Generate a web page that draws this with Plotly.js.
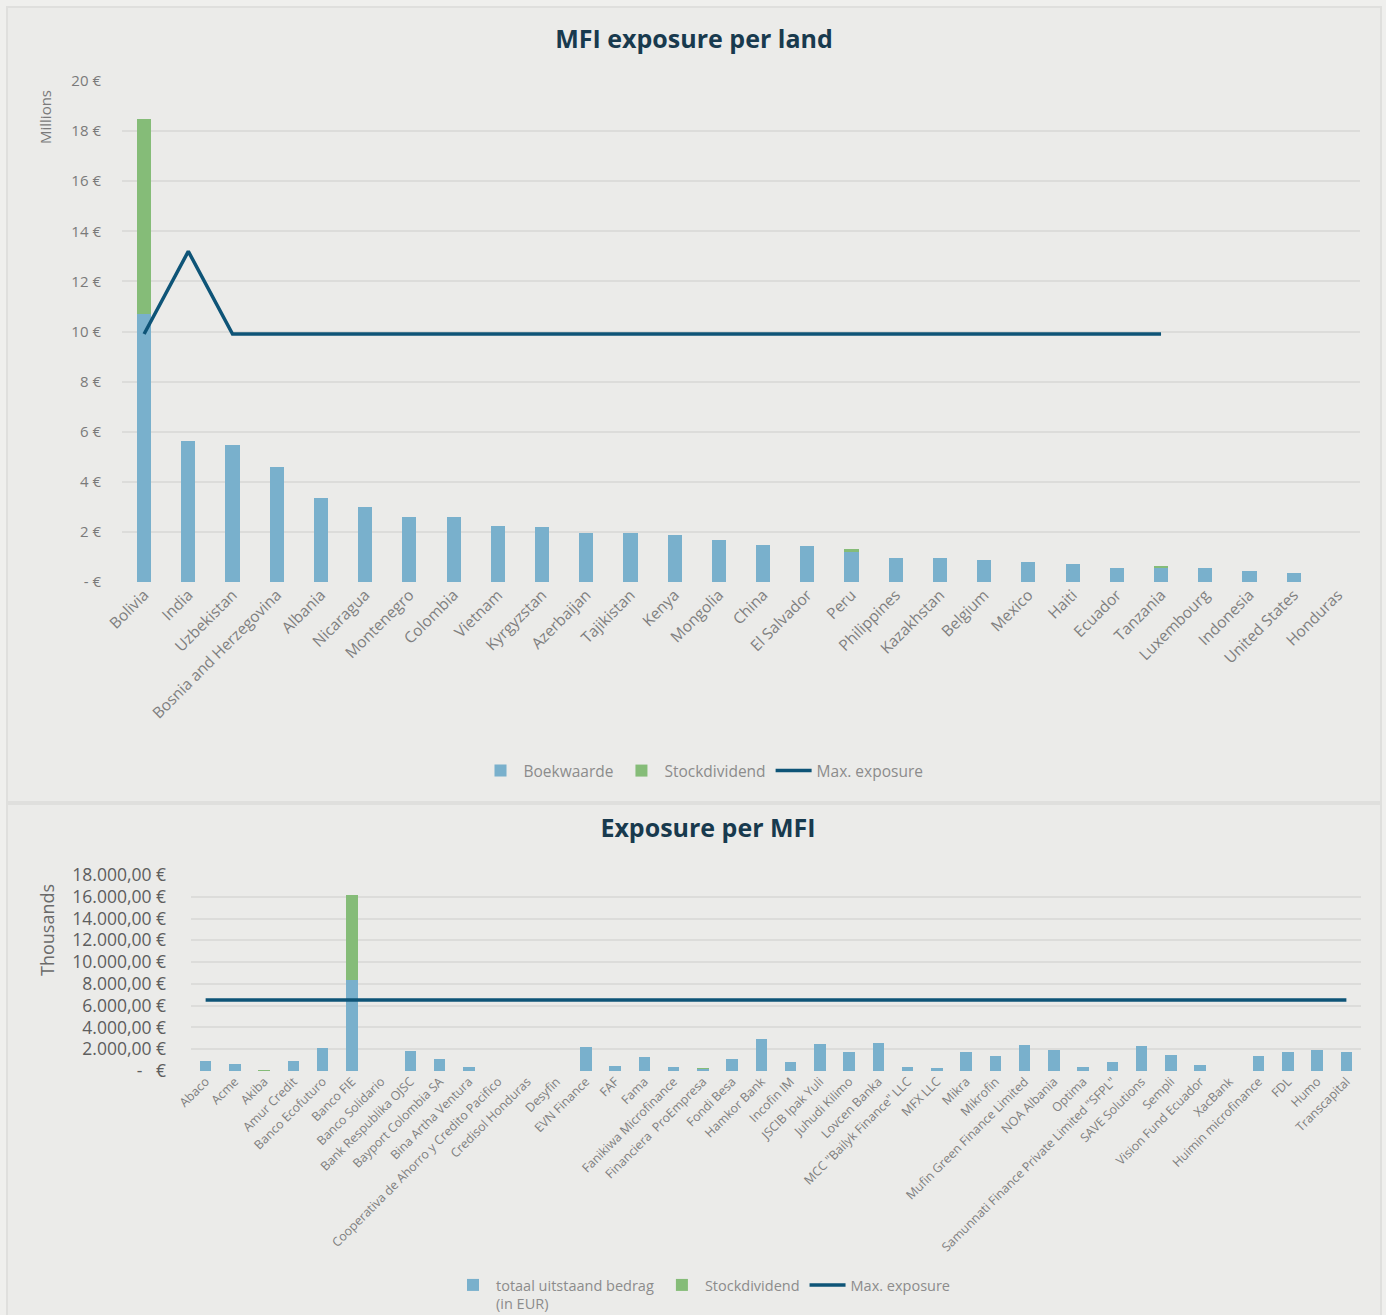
<!DOCTYPE html>
<html>
<head>
<meta charset="utf-8">
<script src="https://cdn.plot.ly/plotly-3.0.1.min.js"></script>
<style>
  html, body { margin:0; padding:0; background:#efefed; width:1386px; height:1315px; overflow:hidden; }
  .panel { position:absolute; background:#ebebe9; border:2px solid #dfdfdd; box-sizing:border-box; }
  #p1 { left:6px; top:6px; width:1376px; height:797px; }
  #p2 { left:6px; top:803px; width:1376px; height:520px; }
  #c1 { position:absolute; left:8px; top:8px; width:1372px; height:793px; }
  #c2 { position:absolute; left:8px; top:805px; width:1372px; height:510px; }
</style>
</head>
<body>
<div class="panel" id="p1"></div>
<div class="panel" id="p2"></div>
<div id="c1"></div>
<div id="c2"></div>
<script>
// ---------- Chart 1 : MFI exposure per land (values in millions EUR) ----------
const countries = ["Bolivia","India","Uzbekistan","Bosnia and Herzegovina","Albania","Nicaragua","Montenegro","Colombia","Vietnam","Kyrgyzstan","Azerbaijan","Tajikistan","Kenya","Mongolia","China","El Salvador","Peru","Philippines","Kazakhstan","Belgium","Mexico","Haiti","Ecuador","Tanzania","Luxembourg","Indonesia","United States","Honduras"];
const boekwaarde = [10.68,5.64,5.45,4.60,3.37,3.00,2.61,2.61,2.25,2.18,1.96,1.96,1.87,1.68,1.49,1.45,1.19,0.96,0.96,0.88,0.81,0.72,0.56,0.57,0.56,0.45,0.35,0];
const stockdividendLand = [7.80,0,0,0,0,0,0,0,0,0,0,0,0,0,0,0,0.12,0,0,0,0,0,0,0.06,0,0,0,0];
const maxExposureLand = [9.9,13.2,9.9,9.9,9.9,9.9,9.9,9.9,9.9,9.9,9.9,9.9,9.9,9.9,9.9,9.9,9.9,9.9,9.9,9.9,9.9,9.9,9.9,9.9,null,null,null,null];
const landTickVals = [0,2,4,6,8,10,12,14,16,18,20];
const landTickText = ["-\u00a0€","2 €","4 €","6 €","8 €","10 €","12 €","14 €","16 €","18 €","20 €"];

// ---------- Chart 2 : Exposure per MFI (values in thousands EUR) ----------
const mfis = ["Abaco","Acme","Akiba","Amur Credit","Banco Ecofuturo","Banco FIE","Banco Solidario","Bank Respublika OJSC","Bayport Colombia SA","Bina Artha Ventura","Cooperativa de Ahorro y Credito Pacifico","Credisol Honduras","Desyfin","EVN Finance","FAF","Fama","Fanikiwa Microfinance","Financiera  ProEmpresa","Fondi Besa","Hamkor Bank","Incofin IM","JSCIB Ipak Yuli","Juhudi Kilimo","Lovcen Banka","MCC \"Bailyk Finance\" LLC","MFX LLC","Mikra","Mikrofin","Mufin Green Finance Limited","NOA Albania","Optima","Samunnati Finance Private Limited \"SFPL\"","SAVE Solutions","Sempli","Vision Fund Ecuador","XacBank","Huimin microfinance","FDL","Humo","Transcapital"];
const totaalUitstaand = [890,615,0,890,2150,8400,0,1880,1090,340,0,0,0,2220,470,1250,340,170,1090,2900,810,2470,1780,2560,340,280,1750,1340,2380,1940,340,810,2280,1440,530,0,1410,1750,1940,1750];
const stockdividendMFI = [0,0,100,0,0,7780,0,0,0,0,0,0,0,0,0,0,0,140,0,0,0,0,0,0,0,0,0,0,0,0,0,0,0,0,0,0,0,0,0,0];
const maxExposureMFI = [6520,6520,6520,6520,6520,6520,6520,6520,6520,6520,6520,6520,6520,6520,6520,6520,6520,6520,6520,6520,6520,6520,6520,6520,6520,6520,6520,6520,6520,6520,6520,6520,6520,6520,6520,6520,6520,6520,6520,6520];
const mfiTickVals = [0,2000,4000,6000,8000,10000,12000,14000,16000,18000];
const mfiTickText = ["-\u00a0\u00a0\u00a0€","2.000,00 €","4.000,00 €","6.000,00 €","8.000,00 €","10.000,00 €","12.000,00 €","14.000,00 €","16.000,00 €","18.000,00 €"];

const BLUE = "#79b0cc", GREEN = "#85bc78", NAVY = "#0e5477";
const FONT = "Open Sans, sans-serif";
const TITLE_COLOR = "#183a4e";

const cfg = {staticPlot:true, displayModeBar:false};

// ---- chart 1 ----
const t1 = [
  {type:"bar", name:"Boekwaarde", x:countries, y:boekwaarde, marker:{color:BLUE}},
  {type:"bar", name:"Stockdividend", x:countries, y:stockdividendLand, marker:{color:GREEN}},
  {type:"scatter", mode:"lines", name:"Max. exposure", x:countries, y:maxExposureLand, line:{color:NAVY, width:3.5}, connectgaps:false}
];
const l1 = {
  width:1372, height:793, autosize:false,
  paper_bgcolor:"#ebebe9", plot_bgcolor:"#ebebe9",
  margin:{l:114, r:20, t:73, b:219, autoexpand:false},
  barmode:"stack", bargap:0.68,
  font:{family:FONT, color:"#808080"},
  title:{text:"<b>MFI exposure per land</b>", font:{family:FONT, size:25, color:TITLE_COLOR}, x:0.5, xref:"container", y:0.96, yref:"container", yanchor:"middle"},
  xaxis:{type:"category", tickangle:-45, tickfont:{size:15.5, color:"#7f7f7f"}, showgrid:false, zeroline:false, showline:false, ticks:"", automargin:false, nticks:100},
  yaxis:{range:[0,20], tickvals:landTickVals, ticktext:landTickText, tickfont:{size:15, color:"#7a7a7a"}, gridcolor:"#dcdcda", gridwidth:2, zeroline:false, showline:false, ticklabelstandoff:20, automargin:false},
  showlegend:true,
  legend:{orientation:"h", x:(703-8-114)/1238, xanchor:"center", y:(574-763)/501, yanchor:"middle", font:{size:15.5, color:"#8c8c8c"}, traceorder:"normal", bgcolor:"rgba(0,0,0,0)", itemwidth:36},
  annotations:[{text:"Millions", xref:"paper", yref:"paper", x:(37-114)/1238, y:(574-109)/501, textangle:-90, showarrow:false, font:{size:15, color:"#7a7a7a"}, xanchor:"center", yanchor:"middle"}]
};
Plotly.newPlot("c1", t1, l1, cfg);

// ---- chart 2 ----
const t2 = [
  {type:"bar", name:"totaal uitstaand bedrag<br>(in EUR)", x:mfis, y:totaalUitstaand, marker:{color:BLUE}},
  {type:"bar", name:"Stockdividend", x:mfis, y:stockdividendMFI, marker:{color:GREEN}},
  {type:"scatter", mode:"lines", name:"Max. exposure", x:mfis, y:maxExposureMFI, line:{color:NAVY, width:3.5}}
];
const l2 = {
  width:1372, height:510, autosize:false,
  paper_bgcolor:"#ebebe9", plot_bgcolor:"#ebebe9",
  margin:{l:183, r:19, t:70, b:244, autoexpand:false},
  barmode:"stack", bargap:0.6,
  font:{family:FONT, color:"#808080"},
  title:{text:"<b>Exposure per MFI</b>", font:{family:FONT, size:25, color:TITLE_COLOR}, x:(708-8)/1372, xref:"container", y:(510-23)/510, yref:"container", yanchor:"middle"},
  xaxis:{type:"category", tickangle:-45, tickfont:{size:12.4, color:"#7f7f7f"}, showgrid:false, zeroline:false, showline:false, ticks:"", automargin:false, nticks:100},
  yaxis:{range:[0,18000], tickvals:mfiTickVals, ticktext:mfiTickText, tickfont:{size:17.5, color:"#5e5e5e"}, gridcolor:"#dcdcda", gridwidth:2, zeroline:false, showline:false, ticklabelstandoff:24, automargin:false},
  showlegend:true,
  legend:{orientation:"h", x:(703-8-183)/1170, xanchor:"center", y:(266-464)/196, yanchor:"top", valign:"top", font:{size:14.5, color:"#8c8c8c"}, traceorder:"normal", bgcolor:"rgba(0,0,0,0)", itemwidth:36},
  annotations:[{text:"Thousands", xref:"paper", yref:"paper", x:(39-183)/1170, y:(266-125)/196, textangle:-90, showarrow:false, font:{size:18, color:"#6a6a6a"}, xanchor:"center", yanchor:"middle"}]
};
Plotly.newPlot("c2", t2, l2, cfg);
</script>
</body>
</html>
